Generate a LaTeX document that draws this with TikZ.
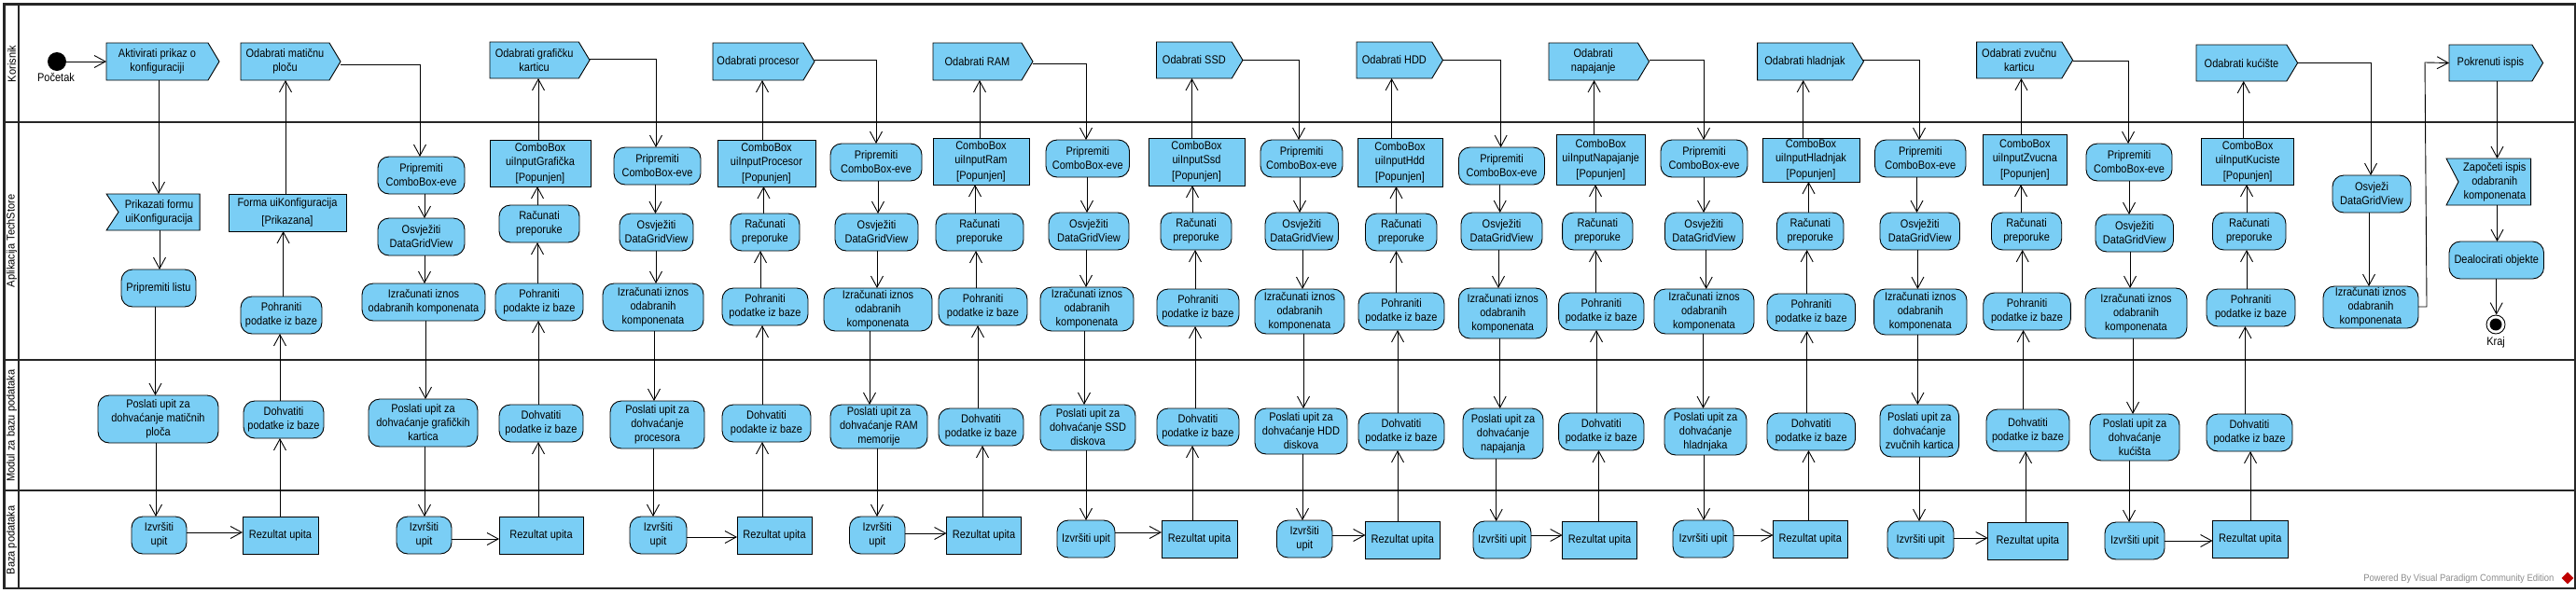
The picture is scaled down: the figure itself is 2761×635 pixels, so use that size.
\documentclass[tikz,border=0pt]{standalone}
\usepackage{fontspec}
\setmainfont[FakeStretch=0.88]{Liberation Sans}
\newfontfamily\lanefont[FakeStretch=0.92]{Liberation Sans}
\newfontfamily\markfont[FakeStretch=0.9]{Liberation Sans}
\usetikzlibrary{arrows.meta, shapes.symbols, shapes.geometric}
\definecolor{actblue}{RGB}{122,206,245}
\tikzset{
    span/.style n args={4}{minimum width={(#2-#1)*1pt}, minimum height={(#4-#3)*1pt}, at={({(#1+#2)/2},{(#3+#4)/2})}},
    spanw/.style n args={4}{minimum width={(#2-#1)*1pt}, minimum height={(#4-#3)*1pt}, at={(#1,{(#3+#4)/2})}, anchor=west},
    base/.style={draw=black, fill=actblue, line width=0.9pt, inner sep=0pt, outer sep=0pt, align=center, font=\fontsize{12.5}{15}\selectfont},
    act/.style={base, rectangle, rounded corners=12pt},
    obj/.style={base, rectangle},
    send/.style={base, signal, signal to=east, signal pointer angle=118},
    recv/.style={base, signal, signal from=west, signal to=nowhere, signal pointer angle=#1},
    flow/.style={line width=0.9pt, -{Straight Barb[length=12pt,width=13pt]}},
    lane/.style={line width=2.4pt, draw=black!85},
    lanelabel/.style={rotate=90, font=\lanefont\fontsize{12}{14}\selectfont},
    caption/.style={font=\fontsize{12.5}{15}\selectfont}
}
\begin{document}
\begin{tikzpicture}[x=1pt, y=-1pt]
        \useasboundingbox (0,0) rectangle (2761,635);
        \fill[white] (0,0) rectangle (2761,635);

        \draw[lane] (4.5,4.5) rectangle (2760,631);
        \draw[lane] (20,4.5) -- (20,631);
        \foreach \y in {131, 386, 526} {
            \draw[lane] (4.5,\y) -- (2760,\y);
        }
        \node[lanelabel] (laneKorisnik) at (12.5,68.5) {Korisnik};
        \node[lanelabel] (laneAplikacija) at (12.5,258.5) {Aplikacija TechStore};
        \node[lanelabel] (laneModul) at (12.5,456.5) {Modul za bazu podataka};
        \node[lanelabel] (laneBaza) at (12.5,579.5) {Baza podataka};

        \node[circle, fill=black, inner sep=0pt, minimum size=20pt] (pocetak) at (61,66) {};
        \node[caption] (pocetakText) at (60,83) {Početak};
        \node[send, spanw={114}{235}{46}{86}] (aktivirati) {Aktivirati prikaz o\\konfiguraciji};
        \node[recv=113, spanw={127}{227}{208}{247}] (prikazati) {Prikazati formu\\uiKonfiguracija};
        \node[act, span={130}{210}{289}{329}] (listu) {Pripremiti listu};
        \node[obj, span={245}{371}{208}{248}] (forma) {Forma uiKonfiguracija\\[4pt][Prikazana]};

        \foreach \col/\xa/\xb/\ya/\yb/\txt in {
            Mat/258/365/46/86/Odabrati matičnu\\ploču,
            Gra/525/632/45/84/Odabrati grafičku\\karticu,
            Pro/764/873/46/86/Odabrati procesor,
            Ram/1000/1107/46/86/Odabrati RAM,
            Ssd/1239.5/1332/45/84/Odabrati SSD,
            Hdd/1454/1546.5/45/84/Odabrati HDD,
            Nap/1660/1767.5/46/86/Odabrati\\napajanje,
            Hla/1883.6/1997.4/46/86/Odabrati hladnjak,
            Zvu/2118.6/2221.6/45/84/Odabrati zvučnu\\karticu,
            Kuc/2354/2462.6/48/87/Odabrati kućište} {
            \node[send, spanw={\xa}{\xb}{\ya}{\yb}] (oda\col) {\txt};
        }

        \foreach \col/\xa/\xb/\ya/\yb in {Gra/405/498/168/208, Pro/658/751/158/198, Ram/890/988/154/194, Ssd/1121/1210.5/150/190, Hdd/1351/1439/150/190, Nap/1563.5/1655.5/158/198, Hla/1780/1873/150/190, Zvu/2009.5/2107/150/190, Kuc/2236/2328/154/194} {
            \node[act, span={\xa}{\xb}{\ya}{\yb}] (prip\col) {Pripremiti\\ComboBox-eve};
        }
        \foreach \col/\xa/\xb/\ya/\yb in {Gra/405/498/234/274, Pro/664/743/229/269, Ram/895/984/229/269, Ssd/1124/1210/228/268, Hdd/1356/1434.5/228/268, Nap/1566/1653/228/268, Hla/1784.5/1868/228/268, Zvu/2015/2100.5/228/268, Kuc/2246/2329.5/230/270} {
            \node[act, span={\xa}{\xb}{\ya}{\yb}] (osv\col) {Osvježiti\\DataGridView};
        }
        \node[act, span={388}{520}{304}{344}] (izrGra) {Izračunati iznos\\odabranih komponenata};
        \foreach \col/\xa/\xb/\ya/\yb in {Pro/646/754/304/355, Ram/883/999/309/355, Ssd/1115/1215/308/355, Hdd/1345/1441/310/358, Nap/1563.5/1658/309/363, Hla/1773/1880/310/358, Zvu/2008.6/2108/310/359, Kuc/2235/2344/309/363, End/2490/2592/307/352} {
            \node[act, span={\xa}{\xb}{\ya}{\yb}] (izr\col) {Izračunati iznos\\odabranih\\komponenata};
        }
        \foreach \col/\xa/\xb/\ya/\yb/\txt in {
            Mat/105/234/424/475/dohvaćanje matičnih\\ploča,
            Gra/395/512/428/479/dohvaćanje grafičkih\\kartica,
            Pro/654/755/430/481/dohvaćanje\\procesora,
            Ram/890/994/434/481/dohvaćanje RAM\\memorije,
            Ssd/1115/1217/434/483/dohvaćanje SSD\\diskova,
            Hdd/1345/1444/438/487/dohvaćanje HDD\\diskova,
            Nap/1568/1654/438/492/dohvaćanje\\napajanja,
            Hla/1784/1872/438/488/dohvaćanje\\hladnjaka,
            Zvu/2015/2099.6/434/490/dohvaćanje\\zvučnih kartica,
            Kuc/2240/2336/444/494/dohvaćanje\\kućišta} {
            \node[act, span={\xa}{\xb}{\ya}{\yb}] (pos\col) {Poslati upit za\\\txt};
        }
        \foreach \col/\xa/\xb/\ya/\yb/\txt in {
            Mat/141/200/554/594/Izvršiti\\upit,
            Gra/425/484/554/594/Izvršiti\\upit,
            Pro/675/736/554/594/Izvršiti\\upit,
            Ram/910.5/970/554/594/Izvršiti\\upit,
            Ssd/1133/1195/558/598/Izvršiti upit,
            Hdd/1368.5/1428/558/598/Izvršiti\\upit,
            Nap/1579/1641/559/599/Izvršiti upit,
            Hla/1793/1858/558/598/Izvršiti upit,
            Zvu/2023/2094/559/599/Izvršiti upit,
            Kuc/2256/2320/560/600/Izvršiti upit} {
            \node[act, span={\xa}{\xb}{\ya}{\yb}] (izv\col) {\txt};
        }
        \foreach \col/\xa/\xb/\ya/\yb in {Mat/260/341/554/594, Gra/535/625/554/594, Pro/790/870/554/594, Ram/1014.5/1094.5/554/594, Ssd/1245/1326/558/598, Hdd/1463.5/1543/559/599, Nap/1674.6/1754.5/559/599, Hla/1900.5/1980/558/598, Zvu/2130.6/2216/560/600, Kuc/2371.5/2452/558/598} {
            \node[obj, span={\xa}{\xb}{\ya}{\yb}] (rez\col) {Rezultat upita};
        }
        \foreach \col/\xa/\xb/\ya/\yb/\txt in {
            Mat/261/347/430/470/podatke,
            Gra/535/625/434/474/podatke,
            Pro/774/869/434/474/podakte,
            Ram/1006/1097/438/478/podatke,
            Ssd/1240/1328/438/478/podatke,
            Hdd/1456/1548/443/483/podatke,
            Nap/1670.6/1762/443/483/podatke,
            Hla/1894/1988.5/443/483/podatke,
            Zvu/2129/2218/439/484/podatke,
            Kuc/2365/2457/444/484/podatke} {
            \node[act, span={\xa}{\xb}{\ya}{\yb}] (doh\col) {Dohvatiti\\\txt{} iz baze};
        }
        \foreach \col/\xa/\xb/\ya/\yb/\txt in {
            Mat/258/345/318/358/podatke,
            Gra/531/625/304/344/podakte,
            Pro/774/866/309/349/podatke,
            Ram/1006/1101/309/349/podatke,
            Ssd/1240/1328/310/350/podatke,
            Hdd/1456/1548/314/354/podatke,
            Nap/1670.6/1762/314/354/podatke,
            Hla/1894/1988.5/315/355/podatke,
            Zvu/2125.7/2219.4/314/354/podatke,
            Kuc/2365/2460/310/350/podatke} {
            \node[act, span={\xa}{\xb}{\ya}{\yb}] (poh\col) {Pohraniti\\\txt{} iz baze};
        }
        \foreach \col/\xa/\xb/\ya/\yb in {Gra/535/621/220/260, Pro/783/857/229/269, Ram/1003/1097/229/269, Ssd/1244/1320/228/268, Hdd/1463.5/1540/229/269, Nap/1674.6/1750/228/268, Hla/1904.5/1976/228/268, Zvu/2134.5/2209.7/228/268, Kuc/2371.5/2450/228/268} {
            \node[act, span={\xa}{\xb}{\ya}{\yb}] (rac\col) {Računati\\preporuke};
        }
        \foreach \col/\xa/\xb/\ya/\yb/\txt in {
            Gra/525/633/150/200/Grafička,
            Pro/769/874/150/200/Procesor,
            Ram/1000/1103/148/198/Ram,
            Ssd/1231/1334/148/199/Ssd,
            Hdd/1455/1546/148/200/Hdd,
            Nap/1668/1763.5/144/198/Napajanje,
            Hla/1889/1993/148/195/Hladnjak,
            Zvu/2125.7/2215/144/198/Zvucna,
            Kuc/2359.6/2458.6/148/198/Kuciste} {
            \node[obj, span={\xa}{\xb}{\ya}{\yb}] (cb\col) {ComboBox\\uiInput\txt\\[2pt][Popunjen]};
        }

        \node[act, span={2500}{2584}{188}{228}] (osvEnd) {Osvježi\\DataGridView};
        \node[send, spanw={2625}{2725.6}{48}{87}] (pokrenuti) {Pokrenuti ispis};
        \node[recv=125, spanw={2635}{2725.6}{170}{220}] (zapoceti) {Započeti ispis\\odabranih\\komponenata};
        \node[act, span={2625}{2726.5}{259}{299}] (dealocirati) {Dealocirati objekte};
        \node[circle, draw=black, fill=white, line width=0.9pt, inner sep=0pt, minimum size=20pt] (kraj) at (2675,348) {};
        \node[circle, fill=black, inner sep=0pt, minimum size=13pt] (krajIn) at (2675,348) {};
        \node[caption] (krajText) at (2675,367) {Kraj};

        \draw[flow] (pocetak.east) -- (aktivirati.west);
        \draw[flow] (aktivirati.south -| 170,0) -- (prikazati.north -| 170,0);
        \draw[flow] (prikazati.south -| 171,0) -- (listu.north -| 171,0);
        \draw[flow] (listu.south -| 166.5,0) -- (posMat.north -| 166.5,0);
        \draw[flow] (posMat.south -| 167,0) -- (izvMat.north -| 167,0);
        \draw[flow] (pohMat.north -| 303.6,0) -- (forma.south -| 303.6,0);
        \draw[flow] (forma.north -| 306,0) -- (odaMat.south -| 306,0);

        \foreach \from/\to/\yt/\x in {Mat/Gra/69/450, Gra/Pro/63/703, Pro/Ram/64/939, Ram/Ssd/68/1164, Ssd/Hdd/64/1392, Hdd/Nap/64/1608.6, Nap/Hla/64/1826, Hla/Zvu/64/2057, Zvu/Kuc/65/2281} {
            \draw[flow] (oda\from.east |- 0,\yt) -| (prip\to.north -| \x,0);
        }
        \foreach \col/\xa/\xb/\xc/\xd in {Gra/455/455/456/455, Pro/702.5/703/701/700, Ram/941/940/932/940, Ssd/1165/1164/1162/1164, Hdd/1393/1396/1397/1396, Nap/1607.7/1606/1607.7/1603.7, Hla/1826/1828.7/1825.5/1826, Zvu/2054.5/2055.4/2055.4/2057, Kuc/2282/2283/2286/2282} {
            \draw[flow] (prip\col.south -| \xa,0) -- (osv\col.north -| \xa,0);
            \draw[flow] (osv\col.south -| \xb,0) -- (izr\col.north -| \xb,0);
            \draw[flow] (izr\col.south -| \xc,0) -- (pos\col.north -| \xc,0);
            \draw[flow] (pos\col.south -| \xd,0) -- (izv\col.north -| \xd,0);
        }
        \foreach \col/\y/\xa/\xb in {Mat/571/300/300, Gra/578/577/577, Pro/576/817/817, Ram/572/1053/1048, Ssd/571/1278/1281, Hdd/574/1498/1498, Nap/574/1713.5/1711, Hla/574/1938.5/1936.7, Zvu/577/2171/2168.6, Kuc/580/2412/2406.4} {
            \draw[flow] (izv\col.east |- 0,\y) -- (rez\col.west |- 0,\y);
            \draw[flow] (rez\col.north -| \xa,0) -- (doh\col.south -| \xa,0);
            \draw[flow] (doh\col.north -| \xb,0) -- (poh\col.south -| \xb,0);
        }
        \foreach \col/\xa/\xb/\xc in {Gra/576/576/577, Pro/815/818.5/817, Ram/1046/1045/1050, Ssd/1281/1278/1277.5, Hdd/1496.5/1496.5/1491.6, Nap/1710/1710/1708.6, Hla/1936.7/1938.5/1932.7, Zvu/2167.7/2166/2166.4, Kuc/2408/2408/2404.7} {
            \draw[flow] (poh\col.north -| \xa,0) -- (rac\col.south -| \xa,0);
            \draw[flow] (rac\col.north -| \xb,0) -- (cb\col.south -| \xb,0);
            \draw[flow] (cb\col.north -| \xc,0) -- (oda\col.south -| \xc,0);
        }

        \draw[flow] (odaKuc.east) -| (osvEnd.north -| 2541,0);
        \draw[flow] (osvEnd.south -| 2539,0) -- (izrEnd.north -| 2539,0);
        \draw[flow] (izrEnd.east |- 0,329) -- (2601,329) -- (2599,67) -- (pokrenuti.west);
        \draw[flow] (pokrenuti.south -| 2676.5,0) -- (zapoceti.north -| 2676.5,0);
        \draw[flow] (zapoceti.south -| 2676.5,0) -- (dealocirati.north -| 2676.5,0);
        \draw[flow] (dealocirati.south -| 2675.7,0) -- (kraj.north -| 2675.7,0);

        \node[anchor=east, text=black!45, font=\markfont\fontsize{10.5}{12}\selectfont] (powered) at (2741,621) {Powered By Visual Paradigm Community Edition};
        \node[diamond, fill=red!75!black, inner sep=0pt, minimum size=13pt] (logo) at (2752,620) {};
    \end{tikzpicture}
\end{document}
